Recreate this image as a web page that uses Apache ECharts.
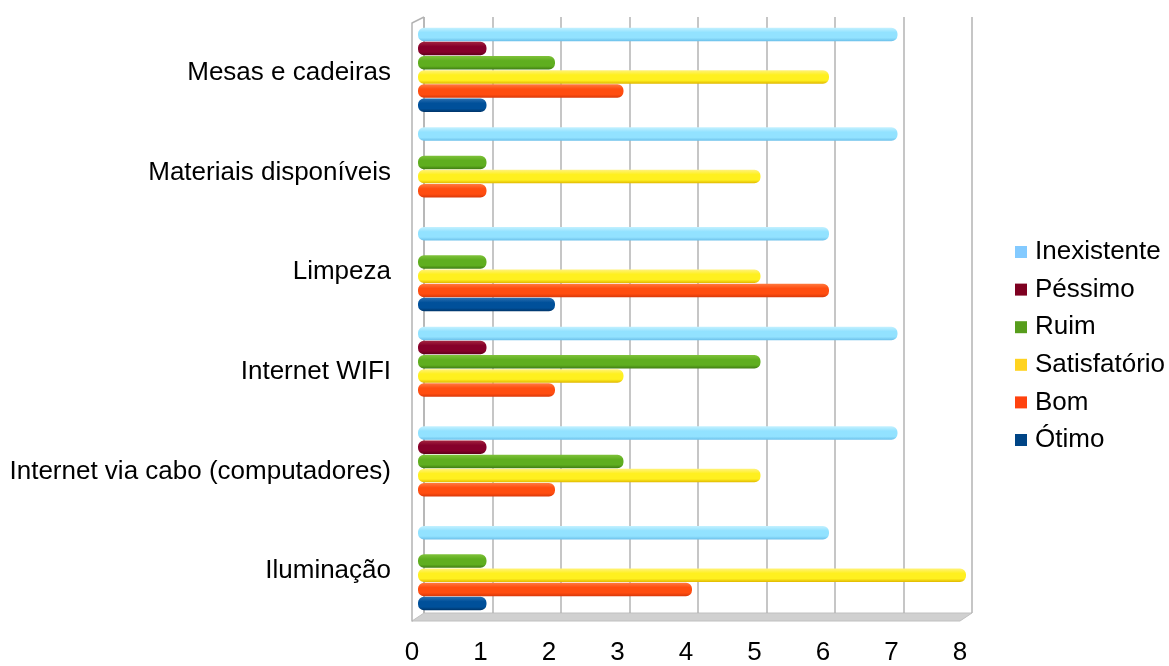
<!DOCTYPE html>
<html>
<head>
<meta charset="utf-8">
<script src="https://cdn.jsdelivr.net/npm/echarts@6/dist/echarts.min.js"></script>
<style>
  html, body { margin: 0; padding: 0; background: #fff; }
  #chart { width: 1169px; height: 666px; }
</style>
</head>
<body>
<div id="chart"></div>
<script>
// categories, bottom to top
var categories = ['Iluminação', 'Internet via cabo (computadores)', 'Internet WIFI', 'Limpeza', 'Materiais disponíveis', 'Mesas e cadeiras'];
var xTicks = [0, 1, 2, 3, 4, 5, 6, 7, 8];

var seriesNames = ['Inexistente', 'Péssimo', 'Ruim', 'Satisfatório', 'Bom', 'Ótimo'];
var inexistente  = [6, 7, 7, 6, 7, 7];
var pessimo      = [0, 1, 1, 0, 0, 1];
var ruim         = [1, 3, 5, 1, 1, 2];
var satisfatorio = [8, 5, 3, 5, 5, 6];
var bom          = [4, 2, 2, 6, 1, 3];
var otimo        = [1, 0, 0, 2, 0, 1];

var seriesData = [inexistente, pessimo, ruim, satisfatorio, bom, otimo];
var legendColors = ['#83CAFF', '#7E0021', '#579D1C', '#FFD320', '#FF420E', '#004586'];
// light / mid / dark shades for the cylinder look
var shades = [
    ['#c4f1ff', '#92e2ff', '#6cc0ea'],
    ['#a3243f', '#86002a', '#5e0018'],
    ['#7fc23a', '#5fae1f', '#3f7d12'],
    ['#fff27a', '#fff01f', '#e0b800'],
    ['#ff7a40', '#ff4d10', '#d8380a'],
    ['#2a6fb0', '#00509a', '#003468']
];

function cyl(c) {
    return new echarts.graphic.LinearGradient(0, 0, 0, 1, [
        { offset: 0, color: c[0] },
        { offset: 0.35, color: c[1] },
        { offset: 0.75, color: c[1] },
        { offset: 1, color: c[2] }
    ]);
}

var dom = document.getElementById('chart');
var myChart = echarts.init(dom, null, { renderer: 'canvas' });

// grid 0 = front face (labels), grid 1 = bars (middle depth), grid 2 = back wall (grid lines)
var FRONT = { left: 412, right: 209, top: 23, bottom: 45 };
var MID   = { left: 418, right: 203, top: 20, bottom: 48 };
var BACK  = { left: 424, right: 197, top: 17, bottom: 53 };

var series = seriesNames.map(function (name, i) {
    return {
        name: name,
        type: 'bar',
        xAxisIndex: 1,
        yAxisIndex: 1,
        data: seriesData[i],
        barWidth: 13.5,
        barGap: '5%',
        itemStyle: {
            color: cyl(shades[i]),
            borderRadius: 6
        }
    };
});

var hiddenAxis = {
    axisLine: { show: false },
    axisTick: { show: false },
    axisLabel: { show: false },
    splitLine: { show: false }
};

var option = {
    animation: false,
    color: legendColors,
    textStyle: { fontFamily: 'Liberation Sans' },
    grid: [FRONT, MID, BACK],
    legend: {
        orient: 'vertical',
        left: 1010,
        top: 234,
        icon: 'rect',
        itemWidth: 12,
        itemHeight: 12,
        itemGap: 11.6,
        data: seriesNames.map(function (n, i) {
            return { name: n, itemStyle: { color: legendColors[i], borderWidth: 0 } };
        }),
        textStyle: { fontSize: 26, color: '#000', fontFamily: 'Liberation Sans', padding: [0, 0, 0, 3] }
    },
    xAxis: [
        {
            type: 'value', gridIndex: 0, min: 0, max: 8, interval: 1,
            axisLine: { show: false },
            axisTick: { show: false },
            splitLine: { show: false },
            axisLabel: {
                fontSize: 26, color: '#000', margin: 19,
                formatter: function (v) { return xTicks.indexOf(v) >= 0 ? String(v) : ''; }
            }
        },
        Object.assign({ type: 'value', gridIndex: 1, min: 0, max: 8, interval: 1 }, hiddenAxis),
        {
            type: 'value', gridIndex: 2, min: 0, max: 8, interval: 1,
            axisLine: { show: false },
            axisTick: { show: false },
            axisLabel: { show: false },
            splitLine: { show: true, lineStyle: { color: '#b3b3b3', width: 1.5 } }
        }
    ],
    yAxis: [
        {
            type: 'category', gridIndex: 0, data: categories,
            axisLine: { show: true, lineStyle: { color: '#b3b3b3', width: 1.5 } },
            axisTick: { show: false },
            axisLabel: { fontSize: 26, color: '#000', margin: 21, padding: [6, 0, 0, 0] }
        },
        Object.assign({ type: 'category', gridIndex: 1, data: categories }, hiddenAxis),
        Object.assign({ type: 'category', gridIndex: 2, data: categories }, hiddenAxis)
    ],
    series: series
};

myChart.setOption(option);

// 3D box edges (floor + left slant) from the front and back grid corners
var f0 = myChart.convertToPixel({ xAxisIndex: 0 }, 0);
var f8 = myChart.convertToPixel({ xAxisIndex: 0 }, 8);
var b0 = myChart.convertToPixel({ xAxisIndex: 2 }, 0);
var b8 = myChart.convertToPixel({ xAxisIndex: 2 }, 8);
var fTop = FRONT.top, fBot = 666 - FRONT.bottom, bTop = BACK.top, bBot = 666 - BACK.bottom;
myChart.setOption({
    graphic: [
        {
            type: 'polygon', silent: true, z: -1,
            shape: { points: [[f0, fBot], [f8, fBot], [b8, bBot], [b0, bBot]] },
            style: { fill: '#d0d0d0', stroke: '#c0c0c0', lineWidth: 1 }
        },
        {
            type: 'line', silent: true,
            shape: { x1: f0, y1: fTop, x2: b0, y2: bTop },
            style: { stroke: '#b3b3b3', lineWidth: 1.5 }
        },
        {
            type: 'line', silent: true, z: -1,
            shape: { x1: b0, y1: bTop, x2: b0, y2: bBot },
            style: { stroke: '#b3b3b3', lineWidth: 1.5 }
        }
    ]
});

window.addEventListener('resize', myChart.resize);
</script>
</body>
</html>
